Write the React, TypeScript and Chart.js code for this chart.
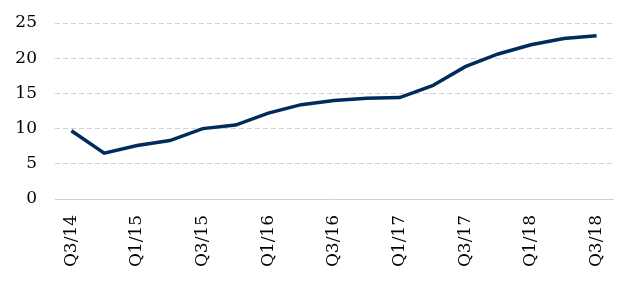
import { useEffect, useRef } from "react";
import { Chart, registerables } from "chart.js";

Chart.register(...registerables);

const quarters = [
  "Q3/14", "Q4/14", "Q1/15", "Q2/15", "Q3/15", "Q4/15", "Q1/16", "Q2/16",
  "Q3/16", "Q4/16", "Q1/17", "Q2/17", "Q3/17", "Q4/17", "Q1/18", "Q2/18", "Q3/18",
];
const values = [9.7, 6.5, 7.6, 8.3, 10.0, 10.5, 12.2, 13.4, 14.0, 14.3, 14.4, 16.1, 18.8, 20.6, 21.9, 22.8, 23.2];
const yTicks = [0, 5, 10, 15, 20, 25];

export default function App() {
  const ref = useRef<HTMLCanvasElement | null>(null);
  useEffect(() => {
    document.body.style.margin = "0";
    const font = { family: "'DejaVu Serif', serif", size: 17 };
    const chart = new Chart(ref.current!, {
      type: "line",
      data: {
        labels: quarters,
        datasets: [
          {
            data: values,
            borderColor: "#002B5C",
            borderWidth: 3.5,
            pointRadius: 0,
            tension: 0,
            fill: false,
          },
        ],
      },
      options: {
        animation: false,
        responsive: false,
        maintainAspectRatio: false,
        layout: { padding: { top: 23, right: 23, left: 0, bottom: 0 } },
        plugins: { legend: { display: false }, tooltip: { enabled: false } },
        scales: {
          x: {
            offset: true,
            grid: { display: false },
            border: { display: true, color: "#d0d0d0", width: 1 },
            ticks: {
              color: "#000",
              font,
              maxRotation: 90,
              minRotation: 90,
              autoSkip: false,
              padding: 8,
              callback: (_v: any, i: number) => (i % 2 === 0 ? quarters[i] : ""),
            },
            afterFit: (s: any) => {
              s.height = 86;
            },
          },
          y: {
            min: 0,
            max: 25,
            afterBuildTicks: (s: any) => {
              s.ticks = yTicks.map((v) => ({ value: v }));
            },
            grid: {
              color: (c: any) => (c.tick && c.tick.value === 0 ? "rgba(0,0,0,0)" : "#d2d2d2"),
              lineWidth: 1,
              drawTicks: false,
            },
            border: { display: false, dash: [5, 3] },
            ticks: { color: "#000", font, padding: 18 },
            afterFit: (s: any) => {
              s.width = 55;
              s.paddingTop = 0;
              s.paddingBottom = 0;
            },
          },
        },
      },
    });
    return () => chart.destroy();
  }, []);
  return (
    <div style={{ width: 636, height: 285 }}>
      <canvas ref={ref} width={636} height={285} style={{ width: 636, height: 285 }} />
    </div>
  );
}
